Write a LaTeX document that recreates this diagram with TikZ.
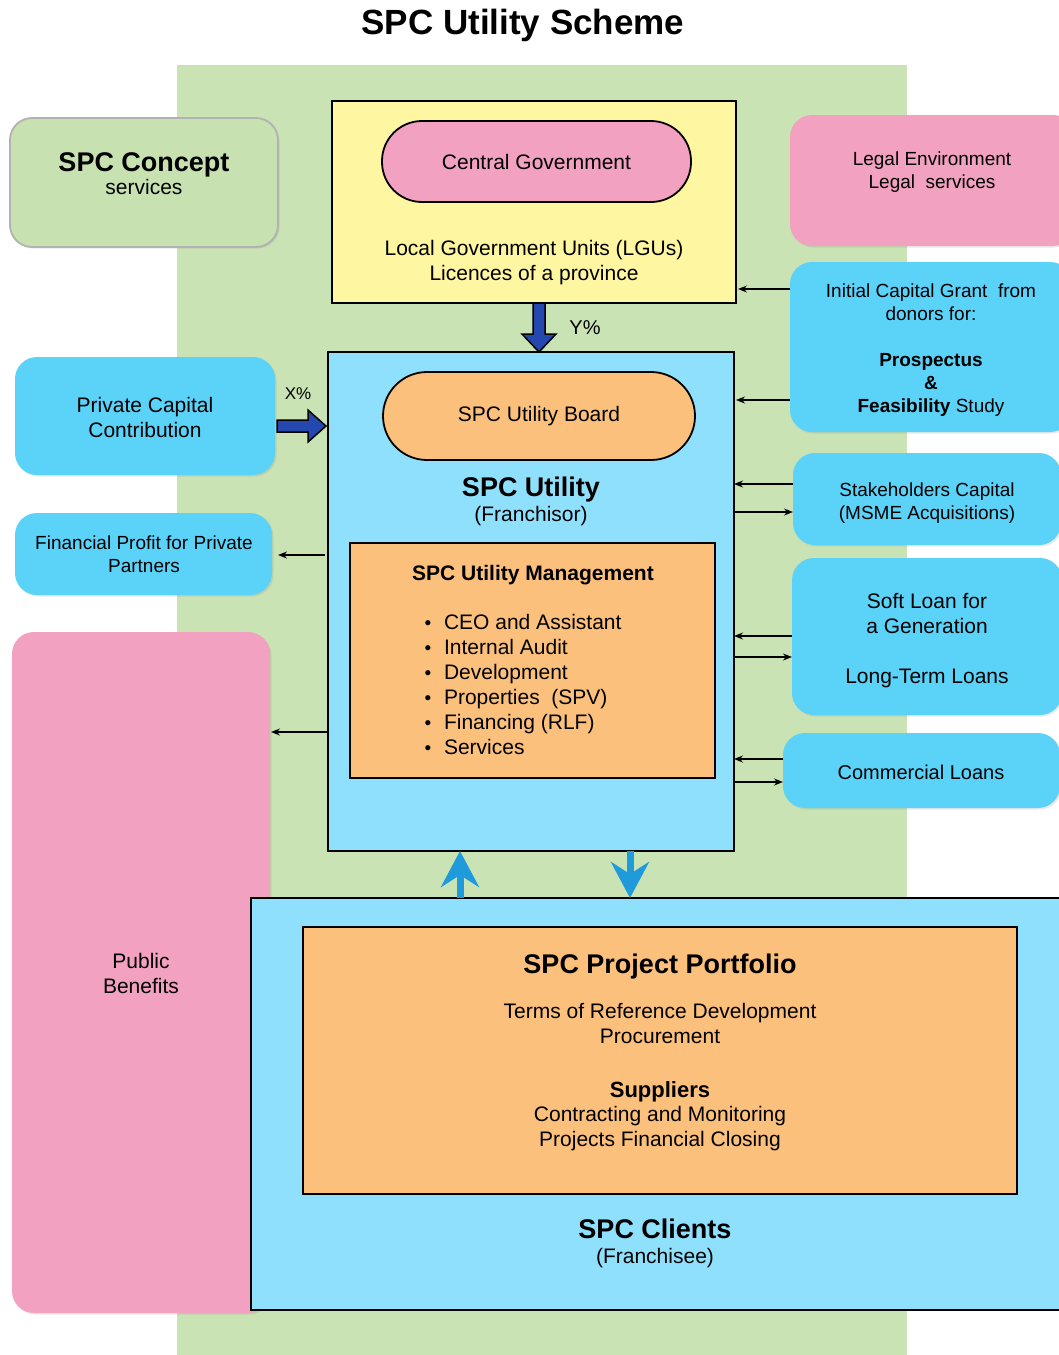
\documentclass[tikz,border=0pt]{standalone}
\usepackage{fontspec}
\setmainfont{Liberation Sans}
\usetikzlibrary{arrows.meta,calc,shadows}
\definecolor{bggreen}{HTML}{CAE3B4}
\definecolor{cgreen}{HTML}{C7E1B1}
\definecolor{cyel}{HTML}{FEF6A0}
\definecolor{cpink}{HTML}{F2A1C1}
\definecolor{ccyan}{HTML}{5BD2F8}
\definecolor{clb}{HTML}{8FE0FC}
\definecolor{corange}{HTML}{FBC07C}
\definecolor{arrdb}{HTML}{2547B0}
\definecolor{arrlb}{HTML}{1F9BDB}
\newcommand{\fsM}{\fontsize{21}{25}\selectfont}
\newcommand{\fsS}{\fontsize{19}{23}\selectfont}
\newcommand{\fsH}{\fontsize{27}{31}\selectfont}
\newcommand{\fsT}{\fontsize{35}{40}\selectfont}
\begin{document}
\begin{tikzpicture}[x=1pt,y=-1pt,
  every node/.style={inner sep=0pt, outer sep=0pt},
  sq/.style={rectangle, draw=black, line width=1.8pt, anchor=north west},
  rb/.style={rectangle, rounded corners=22pt, anchor=north west, draw=none,
    drop shadow={shadow xshift=1.5pt, shadow yshift=-1.5pt, opacity=0.18}},
  tM/.style={anchor=base, font=\fsM},
  tS/.style={anchor=base, font=\fsS},
  tH/.style={anchor=base, font=\fsH\bfseries},
  sarr/.style={-{Stealth[length=9pt,width=7pt]}, line width=1.5pt, black},
  lbarr/.style={line width=7pt, color=arrlb, -{Stealth[length=36pt,width=38pt,inset=12pt]}},
  bigarr/.style={fill=arrdb, draw=black, line width=1.5pt, line join=miter}
]
\useasboundingbox (0,0) rectangle (1059,1355);
\fill[white] (0,0) rectangle (1059,1355);
\clip (0,0) rectangle (1059,1355);

% background band
\node[rectangle, fill=bggreen, anchor=north west, minimum width=730pt, minimum height=1295pt] (bg) at (177,65) {};

% title
\node[anchor=base, font=\fsT\bfseries] (title) at (523,34) {SPC Utility Scheme};

% SPC Concept
\node[rb, fill=cgreen, draw=black!30, line width=1.8pt, minimum width=268pt, minimum height=129pt] (concept) at (10,118) {};
\node[tH] (conceptT) at (144,171) {SPC Concept};
\node[tM] (conceptS) at (144,194) {services};

% Government box
\node[sq, fill=cyel, minimum width=404pt, minimum height=202pt] (gov) at (332,101) {};
\node[sq, fill=cpink, rounded corners=40pt, minimum width=309pt, minimum height=81pt, font=\fsM] (cg) at (382,121) {Central Government};
\node[tM] (lgu1) at (534,255.5) {Local Government Units (LGUs)};
\node[tM] (lgu2) at (534,280.5) {Licences of a province};

% Legal
\node[rb, fill=cpink, minimum width=285pt, minimum height=131pt] (legal) at (790,115) {};
\node[tS] (legal1) at (932,165) {Legal Environment};
\node[tS] (legal2) at (932,188) {Legal~ services};

% Grant
\node[rb, fill=ccyan, minimum width=282pt, minimum height=170pt] (grant) at (790,262) {};
\node[tS] (grant1) at (931,297) {Initial Capital Grant~ from};
\node[tS] (grant2) at (931,320) {donors for:};
\node[tS, font=\fsS\bfseries] (grant3) at (931,366) {Prospectus};
\node[tS, font=\fsS\bfseries] (grant4) at (931,389) {\&};
\node[tS] (grant5) at (931,412) {\textbf{Feasibility} Study};

% Utility
\node[sq, fill=clb, minimum width=406pt, minimum height=499pt] (util) at (328,352) {};
\node[sq, fill=corange, rounded corners=44pt, minimum width=312pt, minimum height=88pt, font=\fsM] (board) at (383,372) {SPC Utility Board};
\node[tH] (utilT) at (531,496) {SPC Utility};
\node[tM] (utilS) at (531,521) {(Franchisor)};
\node[sq, fill=corange, minimum width=365pt, minimum height=235pt] (mgmt) at (350,543) {};
\node[tM, font=\fsM\bfseries] (mgmtT) at (533,580.5) {SPC Utility Management};
\foreach \t [count=\i from 0] in {CEO and Assistant, Internal Audit, Development, Properties~ (SPV), Financing (RLF), Services}{
  \node[anchor=base west, font=\fsM] (item\i) at (424.5,629.5+25*\i) {\raisebox{0.5pt}{\fontsize{19}{19}\selectfont •}\hspace{12.9pt}\t};
}

% Private capital
\node[rb, fill=ccyan, minimum width=260pt, minimum height=118pt] (priv) at (15,357) {};
\node[tM] (priv1) at (145,412) {Private Capital};
\node[tM] (priv2) at (145,437) {Contribution};

% Financial profit
\node[rb, fill=ccyan, minimum width=257pt, minimum height=82pt] (fin) at (15,513) {};
\node[tS] (fin1) at (144,549) {Financial Profit for Private};
\node[tS] (fin2) at (144,572) {Partners};

% Public benefits
\node[rb, fill=cpink, minimum width=258pt, minimum height=681pt] (pub) at (12,632) {};
\node[tM] (pub1) at (141,968.5) {Public};
\node[tM] (pub2) at (141,993.5) {Benefits};

% Stakeholders
\node[rb, fill=ccyan, minimum width=268pt, minimum height=92pt] (stake) at (793,453) {};
\node[tS] (stake1) at (927,496) {Stakeholders Capital};
\node[tS] (stake2) at (927,519) {(MSME Acquisitions)};

% Soft loan
\node[rb, fill=ccyan, minimum width=270pt, minimum height=157pt] (soft) at (792,558) {};
\node[tM] (soft1) at (927,608.5) {Soft Loan for};
\node[tM] (soft2) at (927,633.5) {a Generation};
\node[tM] (soft3) at (927,683.5) {Long-Term Loans};

% Commercial loans
\node[rb, fill=ccyan, minimum width=277pt, minimum height=75pt] (comm) at (783,733) {};
\node[anchor=base, font=\fontsize{20}{24}\selectfont] (comm1) at (921,779) {Commercial Loans};

% Clients
\node[sq, fill=clb, minimum width=820pt, minimum height=412pt] (clients) at (251,898) {};
\node[sq, fill=corange, minimum width=714pt, minimum height=267pt] (port) at (303,927) {};
\node[tH] (portT) at (660,973) {SPC Project Portfolio};
\node[tM] (port1) at (660,1018.5) {Terms of Reference Development};
\node[tM] (port2) at (660,1043.5) {Procurement};
\node[anchor=base, font=\fontsize{22}{26}\selectfont\bfseries] (port3) at (660,1097) {Suppliers};
\node[tM] (port4) at (660,1121.5) {Contracting and Monitoring};
\node[tM] (port5) at (660,1146.5) {Projects Financial Closing};
\node[tH] (cliT) at (655,1238) {SPC Clients};
\node[tM] (cliS) at (655,1263) {(Franchisee)};

% thin arrows
\draw[sarr, shorten >=2pt] (grant.west |- 0,289) -- (gov.east |- 0,289);
\draw[sarr, shorten >=2pt] (grant.west |- 0,400) -- (util.east |- 0,400);
\draw[sarr] (stake.west |- 0,484) -- (util.east |- 0,484);
\draw[sarr] (util.east |- 0,512) -- (stake.west |- 0,512);
\draw[sarr] (soft.west |- 0,636) -- (util.east |- 0,636);
\draw[sarr] (util.east |- 0,657) -- (soft.west |- 0,657);
\draw[sarr] (comm.west |- 0,759) -- (util.east |- 0,759);
\draw[sarr] (util.east |- 0,782) -- (comm.west |- 0,782);
\draw[sarr, shorten <=3pt, shorten >=6pt] (util.west |- 0,555) -- (fin.east |- 0,555);
\draw[sarr, shorten >=1pt] (util.west |- 0,732) -- (pub.east |- 0,732);

% Y% arrow
\coordinate (ya) at (gov.south -| 539,0);
\coordinate (yb) at (util.north -| 539,0);
\draw[bigarr] ($(ya)+(-6,0)$) -- ($(yb)+(-6,-18)$) -- ($(yb)+(-17,-18)$) -- (yb)
  -- ($(yb)+(17,-18)$) -- ($(yb)+(6,-18)$) -- ($(ya)+(6,0)$) -- cycle;
\node[anchor=base, font=\fontsize{20}{24}\selectfont] (ylab) at (585,334) {Y\%};

% X% arrow
\coordinate (xa) at (priv.east |- 0,426);
\coordinate (xb) at ($(util.west |- 0,426)+(-2,0)$);
\draw[bigarr] ($(xa)+(2,-6)$) -- ($(xb)+(-18,-6)$) -- ($(xb)+(-18,-16)$) -- (xb)
  -- ($(xb)+(-18,16)$) -- ($(xb)+(-18,6)$) -- ($(xa)+(2,6)$) -- cycle;
\node[anchor=base, font=\fontsize{17}{20}\selectfont] (xlab) at (298,399) {X\%};

% light blue arrows
\draw[lbarr] (clients.north -| 460,0) -- (util.south -| 460,0);
\draw[lbarr] (util.south -| 630,0) -- (clients.north -| 630,0);
\end{tikzpicture}
\end{document}
